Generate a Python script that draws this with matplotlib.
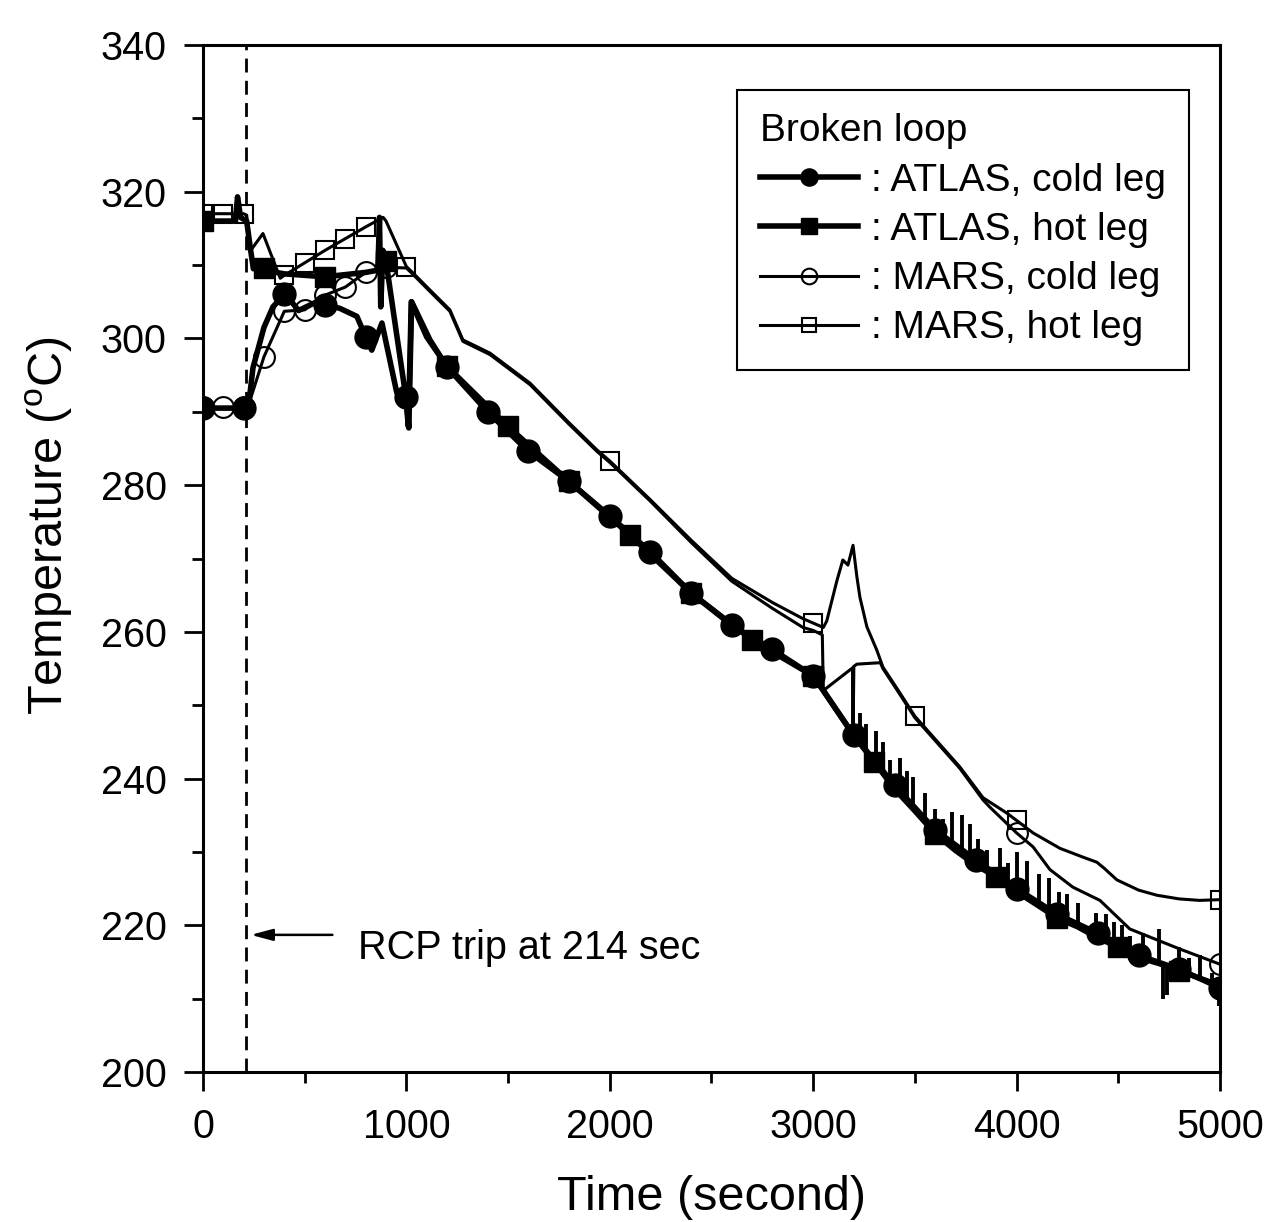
import numpy as np
import matplotlib
matplotlib.use('Agg')
import matplotlib.pyplot as plt

plt.rcParams['font.family'] = ['Liberation Sans', 'DejaVu Sans']
plt.rcParams['mathtext.fontset'] = 'custom'
plt.rcParams['mathtext.rm'] = 'Liberation Sans'

# ATLAS, cold leg (marker cada 200 s)
t_acl = [0, 100, 200, 225, 246, 300, 344, 400, 430, 470, 560, 600, 673, 757, 800, 830, 880,
         953, 1000, 1012, 1026, 1116, 1200, 1400, 1600, 1800, 2000, 2200, 2400, 2600, 2800,
         3000, 3050, 3200, 3400, 3600, 3800, 4000, 4200, 4400, 4600, 4800, 5000]
T_acl = [290.5, 290.5, 290.5, 291.0, 296.0, 301.5, 304.3, 306.0, 305.2, 303.8, 305.0, 304.6, 304.1,
         303.0, 300.2, 298.4, 302.1, 292.6, 292.0, 287.8, 305.0, 299.8, 296.1, 290.0, 284.6,
         280.5, 275.8, 270.9, 265.3, 260.9, 257.6, 254.0, 252.0, 245.9, 239.1, 233.0, 228.9,
         225.0, 221.5, 218.9, 215.9, 214.0, 211.5]

# ATLAS, hot leg (marker cada 300 s)
t_ahl = [0, 100, 160, 170, 185, 215, 232, 248, 300, 330, 360, 400, 600, 800, 860, 868, 874, 885,
         900, 950, 995, 1010, 1024, 1100, 1200, 1500, 1800, 2100, 2400, 2700, 3000, 3050, 3196,
         3300, 3400, 3500, 3600, 3700, 3800, 3900, 4000, 4100, 4200, 4300, 4400, 4500, 4600,
         4700, 4800, 4900, 5000]
T_ahl = [316.0, 316.0, 316.0, 319.3, 316.5, 316.0, 312.5, 309.5, 309.6, 310.5, 309.0, 308.8,
         308.4, 309.0, 309.3, 316.5, 304.3, 312.0, 310.5, 301.0, 292.5, 288.0, 305.0, 300.2,
         296.2, 288.0, 280.5, 273.2, 265.3, 258.9, 254.0, 252.0, 246.0, 242.3, 238.6, 235.6,
         232.5, 230.2, 228.2, 226.6, 224.6, 222.8, 221.0, 219.8, 218.3, 217.0, 215.6, 214.8,
         213.8, 212.8, 211.8]

# oscilaciones del ATLAS hot leg
spike_t = [3198, 3230, 3260, 3310, 3345, 3380, 3426, 3460, 3492, 3550, 3600, 3640, 3683, 3732,
           3770, 3810, 3853, 3918, 3960, 4000, 4050, 4110, 4160, 4210, 4250, 4300, 4390, 4440,
           4480, 4520, 4560, 4620, 4700, 4720, 4740, 4800, 4850, 4900, 4960, 4995]
spike_lo = [246.0, 245.0, 244.0, 242.2, 241.0, 239.8, 238.3, 237.4, 236.3, 234.5, 233.0, 232.1,
            231.2, 230.2, 229.5, 228.7, 227.9, 226.6, 225.8, 225.0, 224.1, 223.0, 222.2, 221.3,
            220.8, 220.2, 219.0, 218.3, 217.6, 217.0, 216.5, 215.7, 215.0, 214.8, 214.6, 214.2,
            213.6, 213.0, 212.2, 211.6]
spike_hi = [255.0, 249.0, 247.5, 246.5, 245.0, 242.5, 242.8, 241.0, 240.2, 238.0, 235.8, 234.5,
            235.5, 235.0, 233.8, 231.8, 230.3, 230.5, 228.5, 230.0, 228.8, 227.0, 226.5, 224.5,
            224.3, 223.0, 221.7, 221.5, 220.5, 220.0, 218.5, 219.0, 219.5, 210.0, 210.5, 217.0,
            215.5, 216.0, 213.5, 209.0]

# MARS, hot leg
t_mhl = [0, 100, 200, 215, 235, 295, 380, 400, 500, 600, 700, 800, 886, 900, 1000, 1030, 1116,
         1214, 1278, 1411, 1608, 1800, 1937, 2000, 2200, 2400, 2600, 2800, 2950, 3000, 3050,
         3067, 3117, 3146, 3171, 3196, 3215, 3230, 3264, 3313, 3343, 3426, 3500, 3721, 3835,
         3952, 4000, 4081, 4213, 4326, 4395, 4430, 4493, 4600, 4690, 4800, 4900, 5000]
T_mhl = [317.0, 317.0, 317.0, 316.8, 312.0, 314.3, 308.2, 308.6, 310.3, 312.0, 313.6, 315.2,
         316.5, 316.0, 309.8, 309.0, 306.6, 303.9, 299.8, 298.0, 293.9, 288.5, 284.8, 283.3,
         278.0, 272.5, 267.3, 264.0, 261.8, 261.2, 260.6, 261.5, 267.0, 269.8, 269.1, 271.8,
         267.5, 264.7, 260.7, 257.5, 255.2, 251.7, 248.5, 241.6, 237.4, 235.3, 234.3, 232.6,
         230.5, 229.3, 228.6, 227.8, 226.2, 224.8, 224.1, 223.6, 223.4, 223.5]
mk_mhl = [0, 100, 200, 400, 500, 600, 700, 800, 1000, 2000, 3000, 3500, 4000, 5000]

# MARS, cold leg
t_mcl = [0, 100, 200, 225, 300, 400, 500, 600, 700, 800, 900, 1000, 1030, 1116, 1214, 1278,
         1411, 1608, 1800, 1937, 2000, 2200, 2400, 2600, 2800, 2950, 3000, 3045, 3050, 3194,
         3197, 3200, 3215, 3330, 3343, 3426, 3500, 3721, 3835, 3869, 4000, 4081, 4164, 4277,
         4410, 4557, 4800, 5000]
T_mcl = [290.6, 290.6, 290.6, 291.0, 297.5, 303.7, 303.9, 305.9, 307.0, 309.0, 309.7, 309.6,
         308.8, 306.4, 303.7, 299.6, 297.8, 293.7, 288.3, 284.6, 283.1, 277.8, 272.2, 266.9,
         263.2, 260.6, 260.2, 259.6, 252.0, 255.1, 247.6, 255.3, 255.6, 255.8, 255.0, 251.5,
         248.3, 241.4, 237.1, 236.1, 232.6, 230.7, 227.6, 225.2, 223.4, 219.5, 216.8, 214.7]
mk_mcl = [0, 100, 200, 300, 400, 500, 600, 700, 800, 900, 4000, 5000]

fig = plt.figure(figsize=(12.7, 12.22), dpi=100)
ax = fig.add_axes([0.1598, 0.1227, 0.8008, 0.8405])

l_mhl, = ax.plot(t_mhl, T_mhl, color='k', lw=2.2, marker='s', ms=13, mfc='none', mew=1.5,
                 markevery=[i for i, t in enumerate(t_mhl) if t in mk_mhl])
l_mcl, = ax.plot(t_mcl, T_mcl, color='k', lw=2.2, marker='o', ms=15, mfc='none', mew=1.5,
                 markevery=[i for i, t in enumerate(t_mcl) if t in mk_mcl])
l_acl, = ax.plot(t_acl, T_acl, color='k', lw=4, marker='o', ms=16.5,
                 markevery=[i for i, t in enumerate(t_acl) if t % 200 == 0])
l_ahl, = ax.plot(t_ahl, T_ahl, color='k', lw=4, marker='s', ms=14.5,
                 markevery=[i for i, t in enumerate(t_ahl) if t % 300 == 0])
ax.vlines(spike_t, spike_lo, spike_hi, color='k', lw=2.8)

# disparo de la RCP
ax.axvline(214, color='k', ls='--', lw=2, dashes=(5, 3))
ax.annotate('', xy=(222, 218.7), xytext=(650, 218.7),
            arrowprops=dict(arrowstyle='-|>,head_length=1.3,head_width=0.35', color='k', lw=1.8))
ax.text(762, 216.9, 'RCP trip at 214 sec', fontsize=28.5, va='center', ha='left')

ax.set_xlim(0, 5000)
ax.set_ylim(200, 340)
ax.set_xticks(np.arange(0, 5001, 1000))
ax.set_xticks(np.arange(0, 5001, 500), minor=True)
ax.set_yticks(np.arange(200, 341, 20))
ax.set_yticks(np.arange(200, 341, 10), minor=True)
ax.tick_params(which='both', direction='out', width=2, labelsize=28.5, top=False, right=False)
ax.tick_params(which='major', length=14, pad=12)
ax.tick_params(which='minor', length=8)
for s in ax.spines.values():
    s.set_linewidth(2.2)

ax.set_xlabel('Time (second)', fontsize=35)
ax.set_ylabel('Temperature ($^\\mathregular{o}$C)', fontsize=35)
ax.xaxis.set_label_coords(0.5, -0.1)
ax.yaxis.set_label_coords(-0.126, 0.532)

leg = ax.legend([l_acl, l_ahl, l_mcl, l_mhl],
                [': ATLAS, cold leg', ': ATLAS, hot leg', ': MARS, cold leg', ': MARS, hot leg'],
                title='Broken loop', loc='upper right', bbox_to_anchor=(0.970, 0.956),
                borderaxespad=0, fontsize=28, title_fontsize=28, numpoints=1,
                handlelength=2.5, handletextpad=0.35, labelspacing=0.34, markerscale=0.75,
                fancybox=False, edgecolor='k', framealpha=1, alignment='left',
                borderpad=0.6)
leg.get_frame().set_linewidth(1.5)

fig.savefig('out.png', dpi=100)
